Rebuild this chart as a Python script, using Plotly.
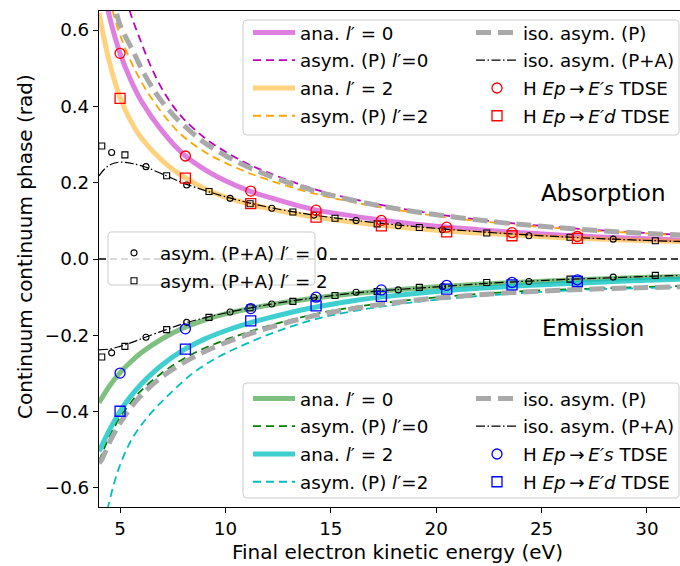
import plotly.graph_objects as go

# ---------------- data ----------------
# Absorption
abs_ana0_E = [4.3, 4.5, 5.0, 5.5, 6.0, 7.0, 8.0, 9.0, 10.0, 11.0, 12.0, 14.0, 16.0, 18.0, 20.0, 22.0, 24.0, 26.0, 28.0, 30.0, 31.6]
abs_ana0_v = [0.69, 0.635, 0.539, 0.47, 0.415, 0.335, 0.275, 0.235, 0.205, 0.181, 0.163, 0.132, 0.113, 0.098, 0.086, 0.077, 0.069, 0.062, 0.057, 0.053, 0.050]
abs_ana2_E = [4.0, 4.25, 4.5, 4.75, 5.0, 5.5, 6.0, 7.0, 8.0, 9.0, 10.0, 11.0, 12.0, 14.0, 16.0, 18.0, 20.0, 22.0, 24.0, 26.0, 28.0, 30.0, 31.6]
abs_ana2_v = [0.645, 0.575, 0.515, 0.465, 0.423, 0.362, 0.318, 0.258, 0.216, 0.185, 0.162, 0.146, 0.133, 0.112, 0.097, 0.085, 0.075, 0.068, 0.062, 0.056, 0.052, 0.048, 0.046]
abs_asym0_E = [5.3, 5.47, 6.0, 6.5, 7.0, 7.5, 8.0, 9.0, 10.0, 11.0, 12.0, 13.5, 15.0, 17.0, 19.0, 21.0, 23.0, 25.0, 27.8, 30.0, 31.6]
abs_asym0_v = [0.685, 0.648, 0.568, 0.500, 0.445, 0.402, 0.368, 0.318, 0.281, 0.251, 0.227, 0.196, 0.171, 0.146, 0.126, 0.110, 0.097, 0.087, 0.075, 0.068, 0.063]
abs_asym2_E = [4.55, 4.68, 5.15, 5.71, 6.34, 7.13, 7.92, 9.0, 10.0, 11.0, 12.0, 13.5, 15.0, 17.0, 19.0, 21.0, 23.0, 25.0, 27.8, 30.0, 31.6]
abs_asym2_v = [0.685, 0.644, 0.565, 0.495, 0.434, 0.373, 0.325, 0.281, 0.252, 0.228, 0.208, 0.182, 0.161, 0.139, 0.121, 0.106, 0.094, 0.084, 0.073, 0.067, 0.062]
abs_iso_E = [4.7, 4.92, 5.63, 6.18, 6.82, 7.6, 8.56, 9.0, 10.0, 11.0, 12.0, 13.5, 15.0, 17.0, 19.0, 21.0, 23.0, 25.0, 27.8, 30.0, 31.6]
abs_iso_v = [0.70, 0.626, 0.543, 0.482, 0.425, 0.373, 0.324, 0.305, 0.271, 0.243, 0.220, 0.191, 0.167, 0.143, 0.124, 0.109, 0.096, 0.086, 0.074, 0.067, 0.063]
abs_isoPA_E = [4.0, 4.3, 4.6, 5.0, 5.5, 6.2, 7.2, 8.2, 10.2, 12.2, 14.2, 16.2, 18.2, 20.3, 22.4, 24.4, 26.4, 28.4, 30.4, 31.6]
abs_isoPA_v = [0.218, 0.238, 0.249, 0.254, 0.251, 0.241, 0.218, 0.195, 0.160, 0.134, 0.115, 0.101, 0.089, 0.079, 0.070, 0.063, 0.057, 0.052, 0.048, 0.046]

# Emission
em_ana0_E = [4.0, 4.5, 5.0, 5.5, 6.0, 7.0, 8.0, 9.0, 10.0, 12.0, 14.0, 16.0, 18.0, 20.0, 22.0, 24.0, 26.0, 28.0, 30.0, 31.6]
em_ana0_v = [-0.377, -0.333, -0.298, -0.270, -0.246, -0.209, -0.181, -0.160, -0.144, -0.121, -0.104, -0.091, -0.081, -0.073, -0.066, -0.061, -0.056, -0.052, -0.048, -0.046]
em_ana2_E = [4.0, 4.5, 5.0, 5.5, 6.0, 7.0, 8.0, 9.0, 10.0, 11.0, 12.0, 14.0, 16.0, 18.0, 20.0, 22.0, 24.0, 26.0, 28.0, 30.0, 31.6]
em_ana2_v = [-0.504, -0.448, -0.399, -0.36, -0.328, -0.277, -0.239, -0.21, -0.188, -0.17, -0.155, -0.129, -0.11, -0.096, -0.085, -0.077, -0.07, -0.065, -0.06, -0.056, -0.053]
em_asym0_E = [4.0, 4.5, 5.0, 5.5, 6.0, 7.0, 8.0, 9.0, 10.0, 11.0, 12.0, 13.5, 15.0, 17.0, 19.0, 21.0, 23.0, 25.0, 27.8, 30.0, 31.6]
em_asym0_v = [-0.53, -0.465, -0.415, -0.377, -0.345, -0.298, -0.262, -0.234, -0.212, -0.193, -0.176, -0.154, -0.136, -0.119, -0.106, -0.096, -0.088, -0.082, -0.077, -0.073, -0.071]
em_asym2_E = [4.3, 4.44, 4.92, 5.55, 6.34, 7.29, 8.48, 9.5, 10.5, 12.0, 13.5, 15.0, 17.0, 19.0, 21.0, 23.0, 25.0, 27.8, 30.0, 31.6]
em_asym2_v = [-0.69, -0.648, -0.552, -0.473, -0.412, -0.357, -0.298, -0.262, -0.234, -0.199, -0.170, -0.148, -0.128, -0.113, -0.102, -0.093, -0.086, -0.079, -0.076, -0.074]
em_iso_E = [4.0, 4.13, 4.5, 5.0, 5.5, 6.0, 7.0, 8.0, 9.0, 10.0, 11.0, 12.0, 13.5, 15.0, 17.0, 19.0, 21.0, 23.0, 25.0, 27.8, 30.0, 31.6]
em_iso_v = [-0.535, -0.526, -0.48, -0.43, -0.39, -0.357, -0.308, -0.272, -0.243, -0.219, -0.199, -0.181, -0.158, -0.140, -0.122, -0.108, -0.098, -0.090, -0.084, -0.078, -0.075, -0.073]
em_isoPA_E = [4.0, 4.5, 5.0, 5.5, 6.2, 7.2, 8.2, 10.2, 12.2, 14.2, 16.2, 18.2, 20.3, 22.4, 24.4, 26.4, 28.4, 30.4, 31.6]
em_isoPA_v = [-0.238, -0.236, -0.229, -0.220, -0.205, -0.185, -0.166, -0.139, -0.118, -0.102, -0.089, -0.080, -0.072, -0.064, -0.058, -0.053, -0.049, -0.045, -0.043]

# asymptotic (P+A) points
pa0_E = [4.6, 6.23, 8.16, 10.22, 12.2, 14.2, 16.2, 18.2, 20.3, 24.4, 28.4]
pa0_abs = [0.279, 0.242, 0.194, 0.159, 0.133, 0.115, 0.101, 0.087, 0.0765, 0.061, 0.052]
pa0_em = [-0.246, -0.205, -0.166, -0.139, -0.118, -0.101, -0.087, -0.081, -0.072, -0.059, -0.0475]
pa2_E = [4.13, 5.23, 7.21, 9.22, 11.17, 13.2, 15.2, 17.2, 19.2, 22.4, 26.35, 30.4]
pa2_abs = [0.296, 0.273, 0.218, 0.177, 0.145, 0.123, 0.107, 0.092, 0.0825, 0.068, 0.057, 0.0477]
pa2_em = [-0.257, -0.229, -0.185, -0.153, -0.128, -0.111, -0.0955, -0.085, -0.0745, -0.0615, -0.0527, -0.043]

# TDSE points
tdse_E = [5.0, 8.1, 11.2, 14.3, 17.4, 20.5, 23.6, 26.7]
tdse_abs_s = [0.539, 0.27, 0.178, 0.128, 0.101, 0.0835, 0.069, 0.059]
tdse_abs_d = [0.421, 0.212, 0.145, 0.110, 0.087, 0.071, 0.061, 0.054]
tdse_em_s = [-0.299, -0.183, -0.130, -0.100, -0.081, -0.069, -0.0615, -0.0545]
tdse_em_d = [-0.399, -0.236, -0.162, -0.1226, -0.098, -0.079, -0.0676, -0.059]

x_range = [4.0, 31.57]
y_range = [-0.65, 0.65]
x_ticks = [5, 10, 15, 20, 25, 30]
y_ticks = [-0.6, -0.4, -0.2, 0.0, 0.2, 0.4, 0.6]

# ---------------- figure ----------------
W, H = 680, 566
ML, MR, MT, MB = 99, 0, 11, 59
PW, PH = W - ML - MR, H - MT - MB

FONT = "DejaVu Sans"
fig = go.Figure()

DASH = "8px,5px"
GRAYDASH = "15px,7px"
DASHDOT = "9px,2.5px,1.5px,2.5px"

_gid = [0]
def gid():
    _gid[0] += 1
    return f"g{_gid[0]}"

def line(x, y, name, color, width, dash="solid", legend="legend", show=True):
    fig.add_trace(go.Scatter(x=x, y=y, mode="lines", name=name, legend=legend, legendgroup=gid(),
                             showlegend=show, line=dict(color=color, width=width, dash=dash, shape="spline", smoothing=1.0),
                             hoverinfo="skip"))

def markers(x, y, name, color, symbol, size, legend="legend", show=True, lw=1.3):
    fig.add_trace(go.Scatter(x=x, y=y, mode="markers", name=name, legend=legend, showlegend=show,
                             legendgroup=gid(),
                             marker=dict(symbol=symbol, size=size, color=color,
                                         line=dict(color=color, width=lw)), hoverinfo="skip"))

L0 = "<i>l</i>′ = 0"
L2 = "<i>l</i>′ = 2"
L0t = "<i>l</i>′=0"
L2t = "<i>l</i>′=2"
TS = "H <i>Ep</i>\u2009→\u2009<i>E′s</i> TDSE"
TD = "H <i>Ep</i>\u2009→\u2009<i>E′d</i> TDSE"

# zero line
fig.add_trace(go.Scatter(x=x_range, y=[0, 0], mode="lines", showlegend=False,
                         line=dict(color="black", width=1.6, dash="7px,4px"), hoverinfo="skip"))

# absorption
line(abs_ana0_E, abs_ana0_v, "ana. " + L0, "rgba(191,0,191,0.5)", 5, legend="legend")
line(abs_asym0_E, abs_asym0_v, "asym. (P) " + L0t, "#bf00bf", 1.8, DASH, legend="legend")
line(abs_ana2_E, abs_ana2_v, "ana. " + L2, "rgba(255,165,0,0.5)", 5, legend="legend")
line(abs_asym2_E, abs_asym2_v, "asym. (P) " + L2t, "#ffa500", 1.8, DASH, legend="legend")
line(abs_iso_E, abs_iso_v, "iso. asym. (P)", "#a9a9a9", 5, GRAYDASH, legend="legend2")
line(abs_isoPA_E, abs_isoPA_v, "iso. asym. (P+A)", "black", 1.2, DASHDOT, legend="legend2")

# emission
line(em_ana0_E, em_ana0_v, "ana. " + L0, "rgba(0,128,0,0.5)", 5, legend="legend3")
line(em_asym0_E, em_asym0_v, "asym. (P) " + L0t, "#008000", 1.8, DASH, legend="legend3")
line(em_ana2_E, em_ana2_v, "ana. " + L2, "rgba(0,191,191,0.75)", 5, legend="legend3")
line(em_asym2_E, em_asym2_v, "asym. (P) " + L2t, "#00bfbf", 1.8, DASH, legend="legend3")
line(em_iso_E, em_iso_v, "iso. asym. (P)", "#a9a9a9", 5, GRAYDASH, legend="legend4")
line(em_isoPA_E, em_isoPA_v, "iso. asym. (P+A)", "black", 1.2, DASHDOT, legend="legend4")

# P+A points
markers(pa0_E, pa0_abs, "asym. (P+A) " + L0, "black", "circle-open", 6, legend="legend5", lw=1.1)
markers(pa0_E, pa0_em, "asym. (P+A) " + L0, "black", "circle-open", 6, legend="legend5", show=False, lw=1.1)
markers(pa2_E, pa2_abs, "asym. (P+A) " + L2, "black", "square-open", 6, legend="legend5", lw=1.1)
markers(pa2_E, pa2_em, "asym. (P+A) " + L2, "black", "square-open", 6, legend="legend5", show=False, lw=1.1)

# TDSE
markers(tdse_E, tdse_abs_s, TS, "red", "circle-open", 10, legend="legend2")
markers(tdse_E, tdse_abs_d, TD, "red", "square-open", 10, legend="legend2")
markers(tdse_E, tdse_em_s, TS, "blue", "circle-open", 10, legend="legend4")
markers(tdse_E, tdse_em_d, TD, "blue", "square-open", 10, legend="legend4")

# ---------------- legend boxes ----------------
def px2paper(xp, yp):
    return (xp - ML) / PW, (H - MB - yp) / PH

def rounded_box(x0, y0, x1, y1, r=4):
    def P(xp, yp):
        a, b = px2paper(xp, yp)
        return f"{a:.5f},{b:.5f}"
    path = (f"M{P(x0 + r, y0)} L{P(x1 - r, y0)} Q{P(x1, y0)} {P(x1, y0 + r)} "
            f"L{P(x1, y1 - r)} Q{P(x1, y1)} {P(x1 - r, y1)} "
            f"L{P(x0 + r, y1)} Q{P(x0, y1)} {P(x0, y1 - r)} "
            f"L{P(x0, y0 + r)} Q{P(x0, y0)} {P(x0 + r, y0)} Z")
    return dict(type="path", path=path, xref="paper", yref="paper",
                fillcolor="rgba(255,255,255,0.8)", line=dict(color="#cccccc", width=1), layer="above")

shapes = [rounded_box(243, 20, 679, 135), rounded_box(243, 383, 679, 498), rounded_box(108, 232, 315, 285)]

def leg(xp, yp):
    a, b = px2paper(xp, yp)
    return dict(x=a, y=b, xanchor="left", yanchor="top", bgcolor="rgba(0,0,0,0)", borderwidth=0,
                font=dict(family=FONT, size=18.3, color="black"), itemwidth=42, tracegroupgap=1.0,
                traceorder="grouped")

ax_common = dict(showgrid=False, zeroline=False, showline=True, linecolor="black", linewidth=1.2,
                 ticks="outside", ticklen=5, tickwidth=1.2, tickcolor="black",
                 tickfont=dict(size=18.3, family=FONT, color="black"), automargin=False)

ax_px = lambda xp: px2paper(xp, 0)[0]
ay_px = lambda yp: px2paper(0, yp)[1]

fig.update_layout(
    width=W, height=H, margin=dict(l=ML, r=MR, t=MT, b=MB, autoexpand=False),
    paper_bgcolor="white", plot_bgcolor="white",
    font=dict(family=FONT, size=18, color="black"),
    shapes=shapes,
    legend=leg(248, 14), legend2=leg(471, 14), legend3=leg(248, 380), legend4=leg(471, 380),
    legend5=leg(108, 234.5),
    xaxis=dict(range=x_range, tickvals=x_ticks, mirror=True, **ax_common),
    yaxis=dict(range=y_range, tickvals=y_ticks, tickformat=".1f", mirror=False, **ax_common),
    annotations=[
        dict(x=27.95, y=0.173, text="Absorption", showarrow=False, font=dict(size=23, family=FONT), xref="x", yref="y"),
        dict(x=27.45, y=-0.181, text="Emission", showarrow=False, font=dict(size=23, family=FONT), xref="x", yref="y"),
        dict(x=ax_px(397.5), y=ay_px(552), text="Final electron kinetic energy (eV)", showarrow=False,
             font=dict(size=20, family=FONT), xref="paper", yref="paper", xanchor="center", yanchor="middle"),
        dict(x=ax_px(25), y=ay_px(247), text="Continuum continuum phase (rad)", showarrow=False, textangle=-90,
             font=dict(size=20, family=FONT), xref="paper", yref="paper", xanchor="center", yanchor="middle"),
    ],
)

# remove the page's default body margin so the figure fills the window exactly
fig.write_html("out.html", config={"displayModeBar": False},
               post_script="document.body.style.margin='0';document.body.style.overflow='hidden';")
